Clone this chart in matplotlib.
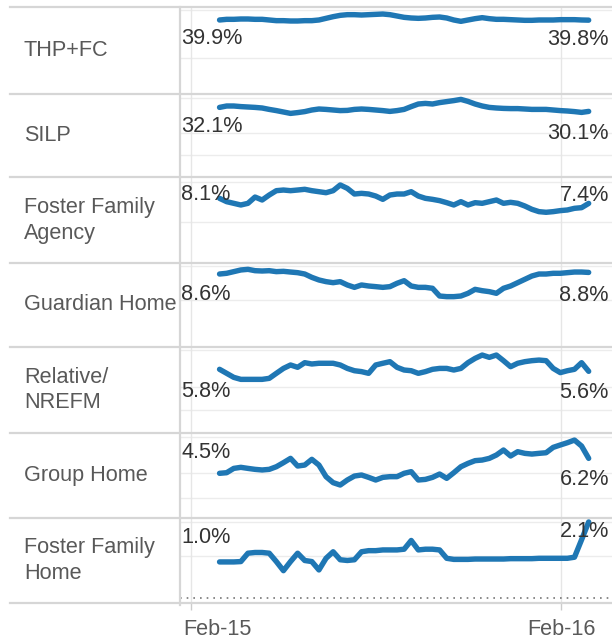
import pandas as pd
import matplotlib
matplotlib.use('Agg')
import matplotlib.pyplot as plt
import matplotlib.transforms as mtransforms
from matplotlib.lines import Line2D

plt.rcParams['font.family'] = ['Liberation Sans', 'DejaVu Sans']

# weekly share of placements (%), Mar 2015 - Feb 2016
weeks = pd.date_range('2015-03-01', periods=53, freq='7D')

categories = ['THP+FC', 'SILP', 'Foster Family\nAgency', 'Guardian Home',
              'Relative/\nNREFM', 'Group Home', 'Foster Family\nHome']

thp_fc = [39.9, 40.3, 40.3, 40.5, 40.5, 40.3, 40.3, 39.9, 39.5, 39.5, 39.3, 39.3, 39.5, 39.5,
          39.9, 40.9, 41.9, 42.7, 43.1, 43.1, 42.9, 43.1, 43.3, 43.5, 43.1, 42.3, 41.5, 41.1,
          40.9, 41.1, 41.5, 41.7, 41.1, 39.9, 39.1, 39.9, 40.7, 41.3, 40.7, 40.3, 40.3, 40.1,
          39.9, 39.7, 39.7, 39.9, 39.9, 39.9, 40.1, 40.1, 40.1, 39.9, 39.8]
silp = [32.1, 32.8, 32.8, 32.5, 32.3, 32.1, 31.8, 31.1, 30.5, 29.8, 29.1, 29.5, 30.0, 30.8,
        31.3, 31.1, 30.8, 30.5, 30.6, 31.1, 31.3, 31.1, 30.8, 30.5, 30.1, 30.5, 31.1, 32.5,
        33.8, 34.1, 33.8, 34.5, 35.0, 35.5, 36.1, 35.1, 33.8, 32.8, 32.1, 31.8, 31.6, 31.5,
        31.5, 31.3, 31.1, 31.1, 31.1, 30.8, 30.5, 30.3, 30.0, 29.6, 30.1]
ffa = [8.1, 7.64, 7.41, 7.18, 7.41, 8.28, 7.87, 8.56, 9.16, 9.25, 9.16, 9.25, 9.35, 9.16,
       9.02, 8.88, 9.16, 9.95, 9.48, 8.70, 8.79, 8.70, 8.42, 7.96, 8.56, 8.70, 8.70, 9.02,
       8.42, 8.10, 7.96, 7.78, 7.50, 7.18, 7.64, 7.18, 7.50, 7.41, 7.64, 7.87, 7.41, 7.55,
       7.41, 7.04, 6.58, 6.26, 6.17, 6.26, 6.40, 6.49, 6.72, 6.81, 7.4]
guardian = [8.6, 8.69, 8.9, 9.11, 9.19, 9.02, 8.98, 9.02, 8.9, 8.94, 8.85, 8.77, 8.6, 8.18,
            7.85, 7.64, 7.51, 7.64, 7.22, 6.92, 7.22, 7.09, 7.01, 6.92, 7.01, 7.43, 7.76, 7.09,
            6.92, 6.92, 6.8, 5.83, 5.75, 5.75, 5.83, 6.17, 6.67, 6.5, 6.38, 6.17, 6.8, 7.09,
            7.51, 7.93, 8.35, 8.6, 8.6, 8.69, 8.69, 8.77, 8.85, 8.85, 8.8]
relative = [5.8, 5.4, 5.0, 4.8, 4.8, 4.8, 4.8, 4.9, 5.4, 5.89, 6.23, 6.0, 6.46, 6.33,
            6.4, 6.4, 6.4, 6.23, 5.89, 5.66, 5.57, 5.4, 6.23, 6.4, 6.56, 6.0, 5.73, 5.66,
            5.4, 5.57, 5.8, 5.89, 5.89, 5.73, 5.89, 6.46, 6.89, 7.22, 6.99, 7.22, 6.66, 6.06,
            6.4, 6.56, 6.66, 6.72, 6.66, 5.89, 5.47, 5.66, 5.8, 6.46, 5.6]
group_home = [4.5, 4.57, 5.06, 5.18, 5.06, 4.95, 4.88, 4.95, 5.25, 5.71, 6.2, 5.33, 5.44, 6.09,
              5.44, 4.12, 3.44, 3.17, 3.74, 4.19, 4.31, 4.04, 3.74, 4.04, 4.12, 4.12, 4.5, 4.69,
              3.74, 3.81, 4.04, 4.42, 3.93, 4.57, 5.25, 5.63, 5.94, 6.01, 6.2, 6.58, 7.15, 6.47,
              6.96, 6.77, 6.69, 6.77, 6.84, 7.45, 7.72, 7.98, 8.28, 7.6, 6.2]
ffh = [1.0, 1.0, 1.0, 1.01, 1.24, 1.26, 1.26, 1.24, 1.01, 0.76, 1.01, 1.24, 1.04, 1.01,
       0.78, 1.1, 1.28, 1.06, 1.04, 1.06, 1.28, 1.31, 1.31, 1.33, 1.33, 1.33, 1.35, 1.59,
       1.33, 1.35, 1.35, 1.33, 1.1, 1.07, 1.07, 1.07, 1.08, 1.08, 1.08, 1.08, 1.08, 1.09,
       1.09, 1.09, 1.09, 1.1, 1.1, 1.1, 1.1, 1.1, 1.13, 1.61, 2.1]

series = [thp_fc, silp, ffa, guardian, relative, group_home, ffh]

tick_dates = pd.to_datetime(['2015-02-01', '2016-02-01'])
tick_labels = ['Feb-15', 'Feb-16']

# layout (pixels of a 612x640 canvas) and per-row axis ranges
W, H = 612, 640
row_edges = [6.7, 94, 177.3, 263.3, 346.7, 433.3, 518.3, 602.7]
ylims = [(-4.63, 47.9), (-2.85, 38.8), (-0.885, 11.01), (-0.554, 9.95),
         (-0.567, 8.05), (-0.614, 9.05), (-0.121, 2.20)]
grid_vals = [[45.9, 16.8], [37.0, 19.45, 8.3], [10.4, 4.83], [9.61, 5.33],
             [7.69, 4.04, 1.75], [8.68, 4.49, 1.65], [2.11, 1.15]]
# vertical pixel offsets of the start / end labels from the first / last point (baseline)
start_dy = [-24.5, -24.5, -1.5, -25.5, -27.5, 15.5, 18.5]
end_dy = [-24.5, -27.5, 2.5, -28.5, -26.5, -26.5, -15.5]

blue = '#1f77b4'
fs = 15.6
fig = plt.figure(figsize=(W / 100, H / 100), dpi=100)
x0 = 180

for i, vals in enumerate(series):
    top, bot = row_edges[i], row_edges[i + 1]
    ax = fig.add_axes([x0 / W, 1 - bot / H, (W - x0) / W, (bot - top) / H])
    ax.set_xlim(pd.Timestamp('2015-01-21'), pd.Timestamp('2016-03-22'))
    ax.set_ylim(*ylims[i])
    for s in ax.spines.values():
        s.set_visible(False)
    for g in grid_vals[i]:
        ax.axhline(g, color='#ececec', lw=1, zorder=0)
    for d in tick_dates:
        ax.axvline(d, color='#e6e6e6', lw=1, zorder=0)
    if i == len(series) - 1:
        ax.axhline(0, color='#777777', lw=1.2, ls=(0, (1, 3)), zorder=1)
    ax.plot(weeks, vals, color=blue, lw=3.9, solid_capstyle='round',
            solid_joinstyle='round', zorder=3)
    ax.set_yticks([])
    ax.annotate(f'{vals[0]:.1f}%', xy=(0, vals[0]), xycoords=('axes fraction', 'data'),
                xytext=(1, start_dy[i]), textcoords='offset pixels', ha='left',
                va='baseline', fontsize=fs, color='#333333', zorder=4,
                annotation_clip=False)
    ax.annotate(f'{vals[-1]:.1f}%', xy=(1, vals[-1]), xycoords=('axes fraction', 'data'),
                xytext=(-3, end_dy[i]), textcoords='offset pixels', ha='right',
                va='baseline', fontsize=fs, color='#333333', zorder=4,
                annotation_clip=False)
    fig.text(24 / W, 1 - (top + bot) / 2 / H, categories[i], ha='left', va='center',
             fontsize=fs, color='#595959', linespacing=1.3)
    if i == len(series) - 1:
        ax.set_xticks(tick_dates)
        ax.set_xticklabels(tick_labels)
        ax.tick_params(axis='x', length=5, width=1, color='#cccccc', pad=7,
                       labelsize=fs, labelcolor='#595959')
    else:
        ax.set_xticks([])

# first tick label starts at the pane edge instead of centring on its tick
lbl = fig.axes[-1].get_xticklabels()[0]
lbl.set_ha('left')
lbl.set_transform(lbl.get_transform() +
                  mtransforms.ScaledTranslation(-8 / 100, 0, fig.dpi_scale_trans))

# row borders and label-column separator
for y in row_edges:
    fig.add_artist(Line2D([10 / W, 1], [1 - y / H, 1 - y / H], color='#d6d6d6', lw=1.6))
fig.add_artist(Line2D([x0 / W, x0 / W], [1 - row_edges[0] / H, 1 - 605 / H],
                      color='#d6d6d6', lw=1.6))

fig.savefig('out.png', dpi=100)
